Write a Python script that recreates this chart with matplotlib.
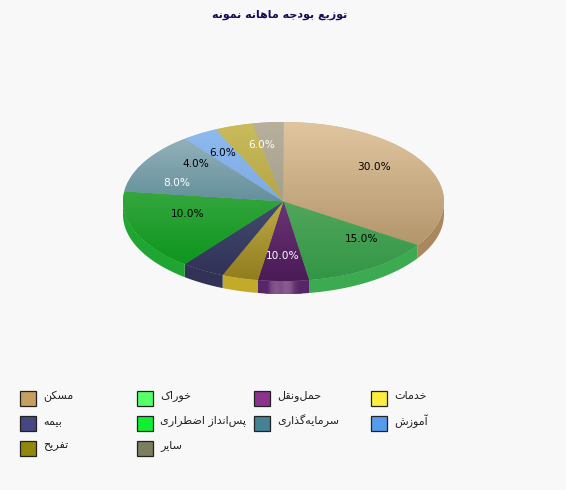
import numpy as np
import matplotlib
matplotlib.use("Agg")
import matplotlib.pyplot as plt
from matplotlib.patches import Ellipse, Polygon, Rectangle

BG = "#f8f8f8"
title = "توزیع بودجه ماهانه نمونه"
categories = ["مسکن", "خوراک", "حمل\u200cونقل", "خدمات", "بیمه",
              "پس\u200cانداز اضطراری", "سرمایه\u200cگذاری", "آموزش", "تفریح", "سایر"]
values = [30, 15, 10, 6, 5, 10, 8, 4, 6, 6]
legend_colors = [(198, 160, 95), (85, 255, 105), (140, 50, 140), (255, 238, 60), (70, 70, 130),
                 (15, 240, 50), (70, 130, 150), (85, 155, 235), (145, 135, 10), (125, 125, 95)]
top_colors = [(224, 198, 160), (82, 166, 92), (108, 52, 118), (190, 170, 70), (66, 76, 112),
              (52, 166, 62), (148, 176, 186), (142, 186, 240), (202, 188, 92), (182, 176, 156)]
bottom_colors = [(180, 150, 108), (50, 150, 70), (74, 26, 86), (145, 125, 30), (48, 50, 86),
                 (15, 150, 30), (100, 145, 155), (125, 170, 225), (180, 165, 70), (165, 160, 140)]
side_colors = [(170, 135, 95), (60, 170, 80), (88, 38, 104), (195, 170, 40), (50, 50, 86),
               (30, 165, 50), (100, 145, 155), (125, 170, 225), (180, 165, 70), (165, 160, 140)]
label_xy = [(374, 167), (362, 239), (283, 256), None, None,
            (188, 214), (177, 183), (196, 164), (223, 153), (262, 145)]
label_white = [False, False, True, False, False, False, True, False, False, True]

# --- minimal Persian shaping (matplotlib has no text shaping) ---
DUAL = {"ب": 0xFE8F, "پ": 0xFB56, "ت": 0xFE95, "ج": 0xFE9D, "ح": 0xFEA1, "خ": 0xFEA5, "س": 0xFEB1,
        "ش": 0xFEB5, "ض": 0xFEBD, "ط": 0xFEC1, "ع": 0xFEC9, "ف": 0xFED1, "ق": 0xFED5, "ک": 0xFB8E,
        "گ": 0xFB92, "ل": 0xFEDD, "م": 0xFEE1, "ن": 0xFEE5, "ه": 0xFEE9, "ی": 0xFBFC}
RIGHT = {"ا": 0xFE8D, "آ": 0xFE81, "د": 0xFEA9, "ذ": 0xFEAB, "ر": 0xFEAD, "ز": 0xFEAF, "و": 0xFEED}


def shape(s):
    out = []
    for i, ch in enumerate(s):
        if ch == "\u200c":
            continue
        prev = s[i - 1] if i else ""
        nxt = s[i + 1] if i + 1 < len(s) else ""
        joins_prev = prev in DUAL
        joins_next = nxt in DUAL or nxt in RIGHT
        if ch in DUAL:
            k = (3 if joins_next else 1) if joins_prev else (2 if joins_next else 0)
            out.append(chr(DUAL[ch] + k))
        elif ch in RIGHT:
            out.append(chr(RIGHT[ch] + (1 if joins_prev else 0)))
        else:
            out.append(ch)
    return "".join(reversed(out))


def c(rgb):
    return tuple(v / 255 for v in rgb)


W, H = 566, 490
CX, CY, RX, RY, DEPTH = 283.5, 201.5, 160.5, 79.5, 13

fig = plt.figure(figsize=(W / 100, H / 100), dpi=100, facecolor=BG)
ax = fig.add_axes([0, 0, 1, 1])
ax.set_facecolor(BG)
plt.rcParams["font.family"] = ["DejaVu Sans"]


def X(px):
    return px - CX


def Y(py):
    return CY - py


mid = [tuple((a + b) / 2 for a, b in zip(t, u)) for t, u in zip(top_colors, bottom_colors)]
wedges, _, autotexts = ax.pie(values, colors=[c(m) for m in mid], startangle=90, counterclock=False,
                              radius=200, autopct="%.1f%%", wedgeprops=dict(linewidth=0))
ax.set_xlim(X(0), X(W))
ax.set_ylim(Y(H), Y(0))
ax.set_aspect("auto")
ax.axis("off")

top_ellipse = Ellipse((0, 0), 2 * RX, 2 * RY, facecolor="none", edgecolor="none")
ax.add_patch(top_ellipse)
for w in wedges:
    w.set_clip_on(True)
    w.set_clip_path(top_ellipse)
    w.set_zorder(2)

edges = np.cumsum([0] + values) / sum(values) * 2 * np.pi
for i in range(len(values)):
    t = np.linspace(edges[i], edges[i + 1], 80)
    s_, c_ = np.sin(t), np.cos(t)
    r = 1 / np.sqrt((s_ / RX) ** 2 + (c_ / RY) ** 2)
    ex, ey = r * s_, r * c_
    # side wall
    below = ey <= 0
    if below.sum() > 1:
        px, py = ex[below], ey[below]
        pts = np.column_stack([np.r_[px, px[::-1]], np.r_[py, py[::-1] - DEPTH]])
        ax.add_patch(Polygon(pts, closed=True, facecolor=c(side_colors[i]), edgecolor="none", zorder=1))
        if i == 2:  # highlight on the purple wall
            clip = Polygon(pts, closed=True, transform=ax.transData, facecolor="none", edgecolor="none")
            ax.add_patch(clip)
            g = np.array([(88, 38, 104), (125, 75, 132), (135, 88, 142), (125, 78, 134),
                          (138, 92, 144), (130, 84, 138), (100, 52, 112), (88, 38, 104)]) / 255
            im = ax.imshow(g[None, :, :], extent=(X(265), X(302), Y(294), Y(281)), aspect="auto",
                           interpolation="bilinear", zorder=1.5)
            im.set_clip_path(clip)
    # top gradient
    poly = Polygon(np.column_stack([np.r_[0, ex], np.r_[0, ey]]), closed=True,
                   facecolor="none", edgecolor="none")
    ax.add_patch(poly)
    y0, y1 = min(0, ey.min()), max(0, ey.max())
    x0, x1 = min(0, ex.min()), max(0, ex.max())
    f = np.linspace(0, 1, 64)[:, None]
    grad = (np.array(top_colors[i]) * (1 - f) + np.array(bottom_colors[i]) * f)[:, None, :] / 255
    im = ax.imshow(grad, extent=(x0, x1, y0, y1), origin="upper", aspect="auto", zorder=3)
    im.set_clip_path(poly)
ax.set_xlim(X(0), X(W))
ax.set_ylim(Y(H), Y(0))

for txt, xy, white in zip(autotexts, label_xy, label_white):
    if xy is None:
        txt.set_visible(False)
        continue
    txt.set_position((X(xy[0]), Y(xy[1])))
    txt.set_color("white" if white else "black")
    txt.set_fontsize(7.6)
    txt.set_ha("center")
    txt.set_va("center")
    txt.set_zorder(5)

ax.text(X(280), Y(15), shape(title), ha="center", va="center", fontsize=8, fontweight="bold",
        color=(25 / 255, 10 / 255, 90 / 255), zorder=5)

col_x = [20, 137, 254, 371]
row_y = [398, 423, 448]
for i, (name, col) in enumerate(zip(categories, legend_colors)):
    x = col_x[i % 4]
    y = row_y[i // 4]
    ax.add_patch(Rectangle((X(x), Y(y + 8)), 15.5, 15.5, facecolor=c(col), edgecolor="#222222",
                           linewidth=0.9, zorder=5))
    ax.text(X(x + 23), Y(y - 2), shape(name), ha="left", va="center", fontsize=8, color="#222222", zorder=5)

fig.savefig("out.png", dpi=100, facecolor=BG)
